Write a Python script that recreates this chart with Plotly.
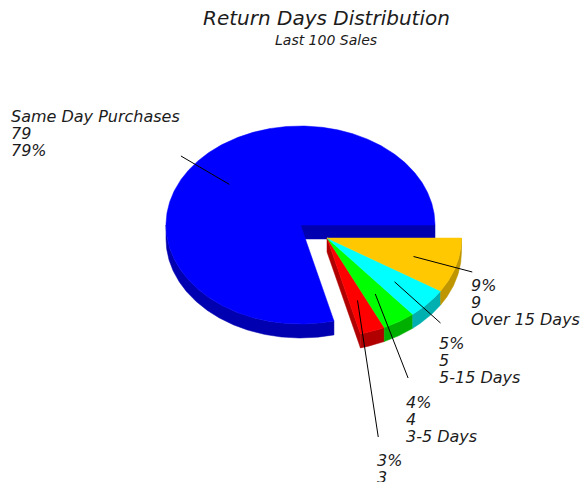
import math
import plotly.graph_objects as go

# Data
categories = ["Same Day Purchases", "", "3-5 Days", "5-15 Days", "Over 15 Days"]
values = [79, 3, 4, 5, 9]
title_text = "Return Days Distribution"
subtitle_text = "Last 100 Sales"

# Style and layout
top_colors = ["#0000FF", "#FF0000", "#00FF00", "#00FFFF", "#FFC800"]
wall_colors = ["#0000B0", "#B00000", "#00B000", "#00B0B0", "#BF9600"]
W, H = 583, 482
RX, RY, DEPTH = 134.5, 99, 14
MAIN_C = (300.5, 225)
PULL_C = (327, 238)
FONT = "DejaVu Sans"
INK = "#1c1c1c"
LABEL_XY = [(10, 106), (376, 450), (405, 392), (438, 333), (470, 275)]
LEADER_END_Y = [156, 437, 378, 323, 272]

total = sum(values)
pct = [round(100 * v / total) for v in values]

# Angles run counter-clockwise from east; first slice starts at 0
spans = []
a = 0.0
for v in values:
    spans.append((a, a + 360.0 * v / total))
    a += 360.0 * v / total


def pt(c, deg, r=1.0, dy=0.0):
    t = math.radians(deg)
    return c[0] + RX * r * math.cos(t), c[1] - RY * r * math.sin(t) + dy


def arc(c, a0, a1, dy=0.0):
    n = max(2, int(abs(a1 - a0) * 2))
    return [pt(c, a0 + (a1 - a0) * i / n, 1.0, dy) for i in range(n + 1)]


fig = go.Figure()


def poly(points, color):
    xs = [p[0] for p in points] + [points[0][0]]
    ys = [p[1] for p in points] + [points[0][1]]
    fig.add_trace(go.Scatter(x=xs, y=ys, mode="lines", fill="toself", fillcolor=color,
                             line=dict(color=color, width=0.5), hoverinfo="skip", showlegend=False))


def centre_of(i):
    return MAIN_C if i == 0 else PULL_C


def walls(i):
    c = centre_of(i)
    a0, a1 = spans[i]
    # Radial faces that look towards the viewer
    if i in (0, 1):
        e = pt(c, a0)
        poly([c, e, (e[0], e[1] + DEPTH), (c[0], c[1] + DEPTH)], wall_colors[i])
    # Front rim: part of the arc in the lower half
    lo, hi = max(a0, 180.0), a1
    if hi > lo:
        poly(arc(c, lo, hi) + arc(c, hi, lo, DEPTH), wall_colors[i])


def top(i):
    c = centre_of(i)
    poly([c] + arc(c, *spans[i]), top_colors[i])


walls(0)
top(0)
for i in range(1, len(values)):
    walls(i)
for i in range(1, len(values)):
    top(i)

# Leader lines
for i in range(len(values)):
    c = centre_of(i)
    mid = sum(spans[i]) / 2
    p0 = pt(c, mid, 0.67)
    p1 = (pt(c, mid, 1.125)[0], LEADER_END_Y[i])
    fig.add_trace(go.Scatter(x=[p0[0], p1[0]], y=[p0[1], p1[1]], mode="lines",
                             line=dict(color="#000000", width=1), hoverinfo="skip", showlegend=False))

annotations = [
    dict(x=326, y=18, text=title_text, font=dict(size=20)),
    dict(x=326, y=40, text=subtitle_text, font=dict(size=14)),
]
for i in range(len(values)):
    if i == 0:
        lines = [categories[i], str(values[i]), f"{pct[i]}%"]
    else:
        lines = [f"{pct[i]}%", str(values[i])] + ([categories[i]] if categories[i] else [])
    # Line pitch follows the 13px base font; the glyphs are drawn at 16px
    text = "<br>".join(f"<span style='font-size:16px'>{s}</span>" for s in lines)
    annotations.append(dict(x=LABEL_XY[i][0], y=LABEL_XY[i][1], text=text,
                            xanchor="left", yanchor="top", align="left", font=dict(size=13)))
for an in annotations:
    an.setdefault("xanchor", "center")
    an.setdefault("yanchor", "middle")
    an["font"]["family"] = FONT
    an["font"]["color"] = INK
    an["font"]["style"] = "italic"
    an.update(showarrow=False, xref="x", yref="y", borderpad=0)

fig.update_layout(
    width=W, height=H, margin=dict(l=0, r=0, t=0, b=0),
    paper_bgcolor="white", plot_bgcolor="white", showlegend=False,
    xaxis=dict(range=[0, W], visible=False, fixedrange=True),
    yaxis=dict(range=[H, 0], visible=False, fixedrange=True),
    annotations=annotations,
)
fig.write_html("out.html", config={"displayModeBar": False},
               post_script="document.body.style.margin='0';document.body.style.overflow='hidden';")
